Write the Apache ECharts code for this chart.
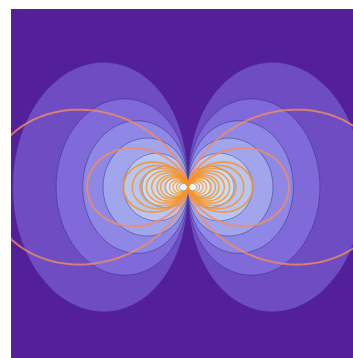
<!DOCTYPE html>
<html>
<head>
<meta charset="utf-8">
<script src="https://cdn.jsdelivr.net/npm/echarts@6/dist/echarts.min.js"></script>
<style>
  html, body { margin: 0; padding: 0; background: #ffffff; }
  #chart { width: 353px; height: 358px; }
</style>
</head>
<body>
<div id="chart"></div>
<script>
// Filled levels of the dipole field, outermost first (data units).
const levelReach  = [1.98, 1.49, 1.19, 0.96, 0.73, 0.52, 0.25, 0.10];
const levelHeight = [2.80, 1.98, 1.49, 1.10, 0.76, 0.46, 0.23, 0.08];
const levelColors = ['#6d4dc1', '#8069d8', '#8e87e5', '#a1a6ec', '#b9c5f2', '#cddaf5', '#e0eaf7', '#edf3f9'];
const levelEdges  = ['rgba(60,40,140,0.25)', 'rgba(50,45,130,0.55)', 'rgba(50,50,130,0.6)', 'rgba(50,60,130,0.6)',
                     'rgba(60,70,140,0.6)', 'rgba(70,90,150,0.6)', 'rgba(90,120,160,0.4)', 'rgba(110,140,170,0.9)'];

// Field lines: horizontal reach of each loop leaving the dipole (data units).
const fieldReach = [2.26, 1.14, 0.73, 0.63, 0.54, 0.47, 0.41, 0.35, 0.31, 0.26, 0.21, 0.17, 0.13];
const fieldWidth = [2.0, 2.1, 1.9, 1.7, 1.7, 1.6, 1.6, 1.5, 1.5, 1.4, 1.4, 1.3, 1.3];

// Visible window of the field (data units).
const xRange = [-2.0, 1.864];
const yRange = [-1.92, 2.0];

const backgroundColor = '#53209a';
const sides = [-1, 1];

// Closed outline of one lobe of a filled level, pinched at the origin.
function lobeOutline(reach, height, side) {
  const q = 0.8;
  const peak = Math.pow(q / (1 + q), q / 2) * Math.sqrt(1 / (1 + q));
  const stretch = height / (2 * peak * reach);
  const pts = [];
  const n = 120;
  for (let i = 0; i <= n; i++) {
    const th = -Math.PI / 2 + Math.PI * i / n;
    const c = Math.max(Math.cos(th), 0);
    const r = reach * Math.pow(c, q);
    pts.push([side * r * c, stretch * r * Math.sin(th)]);
  }
  return pts;
}

// Dipole field line r = L cos^2(phi).
function fieldLine(reach, side) {
  const pts = [];
  const n = 140;
  for (let i = 0; i <= n; i++) {
    const ph = -Math.PI / 2 + Math.PI * i / n;
    const c = Math.cos(ph);
    pts.push([side * reach * c * c * c, reach * c * c * Math.sin(ph)]);
  }
  return pts;
}

const levelItems = [];
levelReach.forEach((_, i) => sides.forEach(s => levelItems.push([i, s])));
const lineItems = [];
fieldReach.forEach((_, i) => sides.forEach(s => lineItems.push([i, s])));

const chart = echarts.init(document.getElementById('chart'), null, { renderer: 'canvas' });
chart.setOption({
  animation: false,
  grid: { left: 11, top: 9, right: 0, bottom: 0, show: true, backgroundColor: backgroundColor, borderWidth: 0 },
  xAxis: { type: 'value', min: xRange[0], max: xRange[1], show: false },
  yAxis: { type: 'value', min: yRange[0], max: yRange[1], show: false },
  series: [
    {
      type: 'custom',
      coordinateSystem: 'cartesian2d',
      data: levelItems,
      clip: true,
      renderItem: function (params, api) {
        const i = api.value(0), side = api.value(1);
        const pts = lobeOutline(levelReach[i], levelHeight[i], side).map(p => api.coord(p));
        return {
          type: 'polygon',
          shape: { points: pts },
          style: { fill: levelColors[i], stroke: levelEdges[i], lineWidth: 0.9 }
        };
      }
    },
    {
      type: 'custom',
      coordinateSystem: 'cartesian2d',
      data: lineItems,
      clip: true,
      renderItem: function (params, api) {
        const i = api.value(0), side = api.value(1);
        const pts = fieldLine(fieldReach[i], side).map(p => api.coord(p));
        return {
          type: 'polyline',
          shape: { points: pts },
          style: { fill: null, stroke: i < 2 ? 'rgba(240,140,100,0.8)' : 'rgba(247,146,36,0.8)', lineWidth: fieldWidth[i] }
        };
      }
    }
  ]
});
</script>
</body>
</html>
